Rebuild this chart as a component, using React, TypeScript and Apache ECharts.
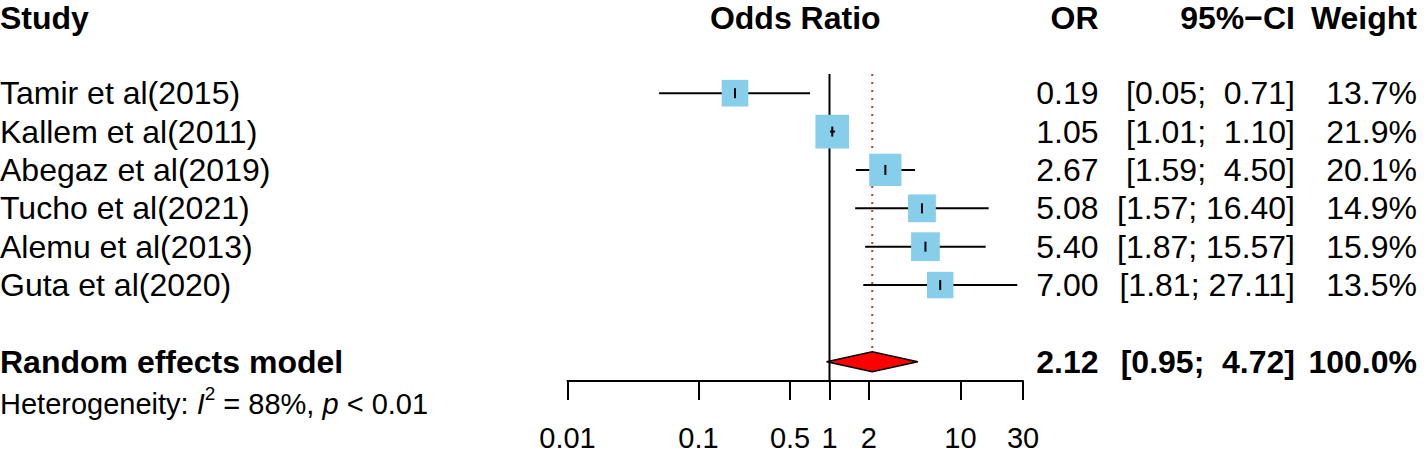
import React, { useEffect, useRef } from "react";
import * as echarts from "echarts";

// ---------- data ----------
const studies = [
  "Tamir et al(2015)",
  "Kallem et al(2011)",
  "Abegaz et al(2019)",
  "Tucho et al(2021)",
  "Alemu et al(2013)",
  "Guta et al(2020)",
];
const oddsRatio = [0.19, 1.05, 2.67, 5.08, 5.4, 7.0];
const ciLower = [0.05, 1.01, 1.59, 1.57, 1.87, 1.81];
const ciUpper = [0.71, 1.1, 4.5, 16.4, 15.57, 27.11];
const weights = [13.7, 21.9, 20.1, 14.9, 15.9, 13.5];

const summaryLabel = "Random effects model";
const summaryOR = [2.12];
const summaryLower = [0.95];
const summaryUpper = [4.72];
const summaryWeight = [100.0];

const hetI2 = "88%";
const hetP = "0.01";

const tickValues = [0.01, 0.1, 0.5, 1, 2, 10, 30];
const tickLabels = ["0.01", "0.1", "0.5", "1", "2", "10", "30"];

const headers = { study: "Study", effect: "Odds Ratio", or: "OR", ci: "95%\u2212CI", weight: "Weight" };

// ---------- styling ----------
const FONT = "'Liberation Sans', Arial, Helvetica, sans-serif";
const FS = 32;
const FS_SMALL = 29;
const COL_OR = 1098.5;
const COL_CI = 1295;
const COL_W = 1417;
const SQUARE_SCALE = 7.2;
const SUMMARY_ROW = 7;
const HEADER_ROW = -2;
const HET_ROW = 8;

const fmt2 = (v: number) => v.toFixed(2);
const fmtCI = (lo: number, hi: number) => {
  const hs = hi.toFixed(2);
  const pad = hs.length < 5 ? "  " : " ";
  return `[${lo.toFixed(2)};${pad}${hs}]`;
};
const fmtW = (w: number) => `${w.toFixed(1)}%`;

function txt(x: number, y: number, text: string, align: string, bold = false, size = FS, lineHeight?: number) {
  const style: any = {
    text,
    fill: "#000",
    fontSize: size,
    fontFamily: FONT,
    fontWeight: bold ? "bold" : "normal",
    align,
    verticalAlign: "middle",
  };
  if (lineHeight) style.lineHeight = lineHeight;
  return { type: "text", x, y, style };
}

export default function App() {
  const ref = useRef<HTMLDivElement>(null);

  useEffect(() => {
    if (!ref.current) return;
    const chart = echarts.init(ref.current, undefined, { renderer: "svg" });

    const studyData = studies.map((_, i) => [oddsRatio[i], ciLower[i], ciUpper[i], weights[i], i]);

    const option: any = {
      animation: false,
      backgroundColor: "#fff",
      grid: { left: 567.5, right: 401, top: 74, bottom: 70, containLabel: false },
      xAxis: {
        type: "log",
        logBase: 10,
        min: 0.01,
        max: 30,
        axisLine: { show: true, onZero: false, lineStyle: { color: "#000", width: 2 } },
        axisTick: { show: true, customValues: tickValues, length: 19, lineStyle: { color: "#000", width: 2 } },
        axisLabel: {
          show: true,
          customValues: tickValues,
          margin: 42,
          fontSize: FS_SMALL,
          fontFamily: FONT,
          color: "#000",
          formatter: (v: number) => {
            let best = 0;
            let bd = Infinity;
            tickValues.forEach((t, i) => {
              const d = Math.abs(Math.log10(t) - Math.log10(v));
              if (d < bd) {
                bd = d;
                best = i;
              }
            });
            return tickLabels[best];
          },
        },
        splitLine: { show: false },
        minorTick: { show: false },
      },
      yAxis: { type: "value", inverse: true, min: -0.5, max: 7.5, show: false },
      series: [
        // reference line at OR = 1
        {
          type: "line",
          data: [
            [1, -0.5],
            [1, 7.5],
          ],
          symbol: "none",
          lineStyle: { color: "#000", width: 2 },
          z: 1,
        },
        // summary: dotted line + diamond + texts
        {
          type: "custom",
          z: 2,
          data: summaryOR.map((v, i) => [v, summaryLower[i], summaryUpper[i], summaryWeight[i], SUMMARY_ROW]),
          renderItem: (_p: any, api: any) => {
            const or = api.value(0);
            const lo = api.value(1);
            const hi = api.value(2);
            const w = api.value(3);
            const row = api.value(4);
            const c = api.coord([or, row]);
            const l = api.coord([lo, row]);
            const h = api.coord([hi, row]);
            const top = api.coord([or, -0.5]);
            const half = 10;
            return {
              type: "group",
              children: [
                {
                  type: "line",
                  shape: { x1: c[0], y1: top[1], x2: c[0], y2: c[1] - half },
                  style: { stroke: "#d9312b", lineWidth: 2, lineDash: [2, 6] },
                },
                {
                  type: "polygon",
                  shape: {
                    points: [
                      [l[0], c[1]],
                      [c[0], c[1] - half],
                      [h[0], c[1]],
                      [c[0], c[1] + half],
                    ],
                  },
                  style: { fill: "#ff0000", stroke: "#000", lineWidth: 1.5 },
                },
                txt(0, c[1], summaryLabel, "left", true),
                txt(COL_OR, c[1], fmt2(or), "right", true),
                txt(COL_CI, c[1], fmtCI(lo, hi), "right", true),
                txt(COL_W, c[1], fmtW(w), "right", true),
              ],
            };
          },
        },
        // studies: CI lines, squares, texts
        {
          type: "custom",
          z: 3,
          data: studyData,
          renderItem: (p: any, api: any) => {
            const or = api.value(0);
            const lo = api.value(1);
            const hi = api.value(2);
            const w = api.value(3);
            const row = api.value(4);
            const c = api.coord([or, row]);
            const l = api.coord([lo, row]);
            const h = api.coord([hi, row]);
            const size = SQUARE_SCALE * Math.sqrt(w);
            const ciLine = {
              type: "line",
              shape: { x1: l[0], y1: c[1], x2: h[0], y2: c[1] },
              style: { stroke: "#000", lineWidth: 2 },
            };
            const children: any[] = [
              ciLine,
              {
                type: "rect",
                shape: { x: c[0] - size / 2, y: c[1] - size / 2, width: size, height: size },
                style: { fill: "#87ceeb" },
              },
            ];
            if (h[0] - l[0] < size) children.push({ ...ciLine });
            children.push({
              type: "line",
              shape: { x1: c[0], y1: c[1] - 5, x2: c[0], y2: c[1] + 5 },
              style: { stroke: "#000", lineWidth: 2 },
            });
            children.push(txt(0, c[1], studies[p.dataIndex], "left"));
            children.push(txt(COL_OR, c[1], fmt2(or), "right"));
            children.push(txt(COL_CI, c[1], fmtCI(lo, hi), "right"));
            children.push(txt(COL_W, c[1], fmtW(w), "right"));
            return { type: "group", children };
          },
        },
        // headers + heterogeneity
        {
          type: "custom",
          z: 4,
          data: [[HEADER_ROW, HET_ROW]],
          renderItem: (_p: any, api: any) => {
            const hy = api.coord([1, api.value(0)])[1] + 2;
            const ety = api.coord([1, api.value(1)])[1] + 3.5;
            const xMin = api.coord([tickValues[0], 0])[0];
            const xMax = api.coord([tickValues[tickValues.length - 1], 0])[0];
            return {
              type: "group",
              children: [
                txt(0, hy, headers.study, "left", true, FS, 28),
                txt((xMin + xMax) / 2, hy, headers.effect, "center", true, FS, 28),
                txt(COL_OR, hy, headers.or, "right", true, FS, 28),
                txt(COL_CI, hy, headers.ci, "right", true, FS, 28),
                txt(COL_W, hy, headers.weight, "right", true, FS, 28),
                {
                  type: "text",
                  x: 0,
                  y: ety,
                  style: {
                    text: `{n|Heterogeneity: }{i|I}{s|2}{n| = ${hetI2}, }{i|p}{n| < ${hetP}}`,
                    align: "left",
                    verticalAlign: "middle",
                    fontFamily: FONT,
                    fontSize: FS_SMALL,
                    fill: "#000",
                    rich: {
                      n: { fontSize: FS_SMALL, fontFamily: FONT, fill: "#000", lineHeight: 40 },
                      i: { fontSize: FS_SMALL, fontFamily: FONT, fill: "#000", fontStyle: "italic", lineHeight: 40 },
                      s: { fontSize: 19, fontFamily: FONT, fill: "#000", lineHeight: 19, verticalAlign: "top" },
                    },
                  },
                },
              ],
            };
          },
        },
      ],
    };

    chart.setOption(option);
    return () => chart.dispose();
  }, []);

  return (
    <div
      ref={ref}
      style={{ position: "fixed", left: 0, top: 0, width: 1424, height: 452, background: "#fff" }}
    />
  );
}
